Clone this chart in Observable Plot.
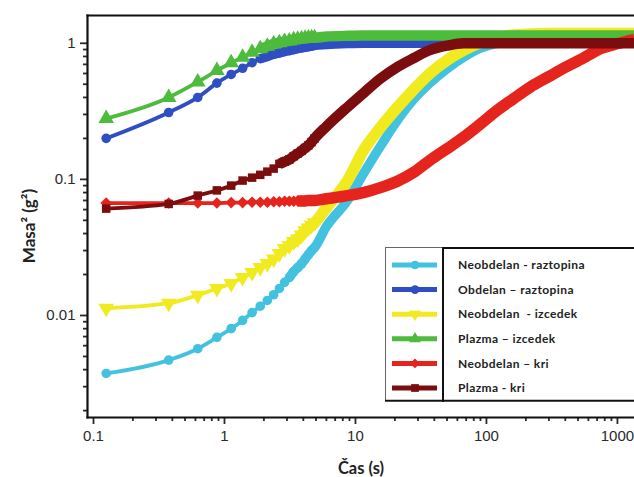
<!DOCTYPE html>
<html><head><meta charset="utf-8">
<script src="https://cdn.jsdelivr.net/npm/d3@7"></script>
<script src="https://cdn.jsdelivr.net/npm/@observablehq/plot@0.6"></script>
<style>
body{margin:0;background:#fff;overflow:hidden}
#wrap{position:relative;width:634px;height:477px}
#legend{position:absolute;left:385px;top:247px}
.ytitle{position:absolute;left:28px;top:226px;transform:translate(-50%,-50%) rotate(-90deg);font-family:Lato,sans-serif;font-weight:bold;font-size:17px;color:#222;white-space:nowrap}
.xtitle{position:absolute;left:361px;top:468px;transform:translate(-50%,-50%);font-family:Lato,sans-serif;font-weight:bold;font-size:16.5px;color:#222;white-space:nowrap}
</style></head><body><div id="wrap"></div>
<script>
// ---- data ----
const seriesNames = ["Neobdelan - raztopina","Obdelan – raztopina","Neobdelan  - izcedek","Plazma – izcedek","Neobdelan – kri","Plazma - kri"];
const tEarly = [0.125,0.375,0.625,0.875,1.125,1.375,1.625,1.875,2.125,2.375,2.625,2.875,3.125,3.375,3.625,3.875,4.125,4.375,4.625,4.875];
const tLate  = [4.875,6,8.7,11.5,15.5,20.9,28,37,50,67,90,120,160,215,300,400,550,700,950,1250,1350];

const cyanEarly   = [0.00375,0.0047,0.0057,0.0069,0.008,0.0092,0.0105,0.0117,0.0129,0.0142,0.0158,0.0175,0.019,0.021,0.0225,0.024,0.026,0.028,0.030,0.0316];
const blueEarly   = [0.20,0.31,0.40,0.51,0.59,0.655,0.72,0.77,0.80,0.83,0.85,0.87,0.885,0.90,0.915,0.925,0.935,0.945,0.955,0.965];
const yellowEarly = [0.0113,0.0123,0.0141,0.0158,0.0172,0.019,0.0207,0.0225,0.0241,0.026,0.0285,0.031,0.0325,0.035,0.0365,0.039,0.042,0.044,0.046,0.048];
const greenEarly  = [0.28,0.40,0.52,0.63,0.72,0.79,0.86,0.91,0.95,0.99,1.01,1.03,1.04,1.06,1.07,1.08,1.09,1.095,1.10,1.10];
const redEarly    = [0.067,0.067,0.067,0.067,0.0675,0.0675,0.068,0.068,0.068,0.0685,0.0685,0.069,0.069,0.069,0.0695,0.0695,0.0695,0.07,0.07,0.07];
const darkEarly   = [0.061,0.066,0.076,0.083,0.09,0.098,0.103,0.108,0.114,0.12,0.13,0.135,0.14,0.148,0.155,0.162,0.17,0.178,0.188,0.20];

const cyanLate   = [0.0316,0.045,0.07,0.11,0.175,0.272,0.39,0.51,0.65,0.79,0.92,1.0,1.04,1.06,1.07,1.07,1.07,1.07,1.07,1.07,1.07];
const blueLate   = [0.965,0.98,0.995,1.0,1.0,1.0,1.0,1.0,1.0,1.0,1.0,1.0,1.0,1.0,1.0,1.0,1.0,1.0,1.0,1.0,1.0];
const yellowLate = [0.048,0.062,0.098,0.163,0.24,0.338,0.46,0.60,0.75,0.89,1.01,1.1,1.15,1.17,1.18,1.18,1.18,1.18,1.18,1.18,1.18];
const greenLate  = [1.10,1.12,1.135,1.14,1.14,1.14,1.14,1.14,1.14,1.14,1.14,1.14,1.14,1.14,1.14,1.14,1.14,1.14,1.14,1.14,1.14];
const redLate    = [0.070,0.072,0.076,0.08,0.087,0.097,0.113,0.138,0.168,0.204,0.255,0.32,0.39,0.475,0.57,0.666,0.78,0.89,0.98,1.05,1.07];
const darkLate   = [0.20,0.245,0.34,0.43,0.55,0.67,0.78,0.89,0.96,1.0,1.0,1.0,1.0,1.0,1.0,1.0,1.0,1.0,1.0,1.0,1.0];

const xTickLabels = [0.1,1,10,100,1000];
const yTickLabels = [0.01,0.1,1];
const xTitle = "Čas (s)";
const yTitle = "Masa² (g²)";

// ---- styles ----
const colors  = ["#43c2df","#2f4ec2","#f0ea1e","#4dbb3b","#e6241e","#7b0d0e"];
const symbols = ["circle","circle","triangle","triangle","diamond2","square"];
const rotations = [0,0,180,0,0,0];
const bandWidths = [9.5,9.5,11.5,10.5,11.5,10.5];
const bandStart = [12,7,12,7,14,10];
const markerR = [4.8,4.8,5.8,5.8,5.2,4.8];

const earlyVals = [cyanEarly,blueEarly,yellowEarly,greenEarly,redEarly,darkEarly];
const lateVals  = [cyanLate,blueLate,yellowLate,greenLate,redLate,darkLate];

const early = [], late = [];
seriesNames.forEach((s,i)=>{
  tEarly.forEach((t,j)=>early.push({s,i,j,t,v:earlyVals[i][j]}));
  tLate.forEach((t,j)=>late.push({s,i,j,t,v:lateVals[i][j]}));
});

const xMinor=[], yMinor=[];
[0.1,1,10,100,1000].forEach(d=>{for(let k=2;k<=9;k++){ if(d*k<=1350) xMinor.push(d*k);} });
[0.001,0.01,0.1].forEach(d=>{for(let k=2;k<=9;k++){ const v=+(d*k).toPrecision(3); if(v>=0.00178) yMinor.push(v);} });

const marks = [];
seriesNames.forEach((s,i)=>{
  const e = early.filter(d=>d.i===i);
  const band = e.filter(d=>d.j>=bandStart[i]).concat(late.filter(d=>d.i===i && d.j>0));
  marks.push(Plot.line(e,{x:"t",y:"v",stroke:colors[i],strokeWidth:3.8,curve:"monotone-x"}));
  marks.push(Plot.line(band,{x:"t",y:"v",stroke:colors[i],strokeWidth:bandWidths[i],curve:"monotone-x",strokeLinecap:"butt"}));
  marks.push(Plot.dot(e,{x:"t",y:"v",fill:colors[i],symbol:symbols[i],rotate:rotations[i],r:markerR[i]}));
});

const chart = Plot.plot({
  width:634, height:477,
  marginLeft:87, marginTop:15, marginBottom:60, marginRight:0,
  style:{fontFamily:"'Liberation Sans', Arial, sans-serif", fontSize:"15px", color:"#2a2a2a", background:"#fff"},
  x:{type:"log", domain:[0.09,1350]},
  y:{type:"log", domain:[0.00178,1.6]},
  marks:[
    Plot.axisX({ticks:xMinor, tickSize:4, strokeWidth:1.8, tickFormat:()=>"", label:null}),
    Plot.axisX({ticks:xTickLabels, tickSize:7, tickPadding:6, strokeWidth:1.8, tickFormat:d=>String(d), label:null}),
    Plot.axisY({ticks:yMinor, tickSize:4, strokeWidth:1.8, tickFormat:()=>"", label:null}),
    Plot.axisY({ticks:yTickLabels, tickSize:7, tickPadding:5, strokeWidth:1.8, tickFormat:d=>String(d), label:null}),
    ...marks,
    Plot.frame({anchor:"top", stroke:"#111", strokeWidth:2.2}),
    Plot.frame({anchor:"left", stroke:"#111", strokeWidth:2.2}),
    Plot.frame({anchor:"bottom", stroke:"#111", strokeWidth:2.2})
  ]
});
const wrap = document.getElementById("wrap");
wrap.appendChild(chart);
d3.select(wrap).append("div").attr("class","ytitle").text(yTitle);
d3.select(wrap).append("div").attr("class","xtitle").text(xTitle);

// ---- legend (overlay) ----
const W=260, H=155;
const lg = d3.select(wrap).append("svg").attr("id","legend").attr("width",W).attr("height",H);
lg.append("rect").attr("x",0.5).attr("y",0.5).attr("width",W).attr("height",H-1).attr("fill","#fff").attr("stroke","#666").attr("stroke-width",1);
lg.append("line").attr("x1",58).attr("x2",W).attr("y1",1).attr("y2",1).attr("stroke","#111").attr("stroke-width",2);
lg.append("line").attr("x1",0).attr("x2",W).attr("y1",H-1.5).attr("y2",H-1.5).attr("stroke","#111").attr("stroke-width",1.6);
lg.append("line").attr("x1",58).attr("x2",58).attr("y1",0).attr("y2",H).attr("stroke","#111").attr("stroke-width",2);
const symMap = {circle:d3.symbolCircle, triangle:d3.symbolTriangle, diamond2:d3.symbolDiamond2, square:d3.symbolSquare};
seriesNames.forEach((s,i)=>{
  const y = 18 + i*24.6;
  lg.append("line").attr("x1",7).attr("x2",52).attr("y1",y).attr("y2",y).attr("stroke",colors[i]).attr("stroke-width",5);
  lg.append("path").attr("d",d3.symbol(symMap[symbols[i]],60)()).attr("transform",`translate(30,${y}) rotate(${rotations[i]})`).attr("fill",colors[i]);
  lg.append("text").attr("x",73).attr("y",y).attr("dy","0.35em").attr("font-family","Lato").attr("font-weight","bold").attr("font-size",12).attr("letter-spacing","0.4px").attr("fill","#222").text(s).style("white-space","pre");
});
</script></body></html>
